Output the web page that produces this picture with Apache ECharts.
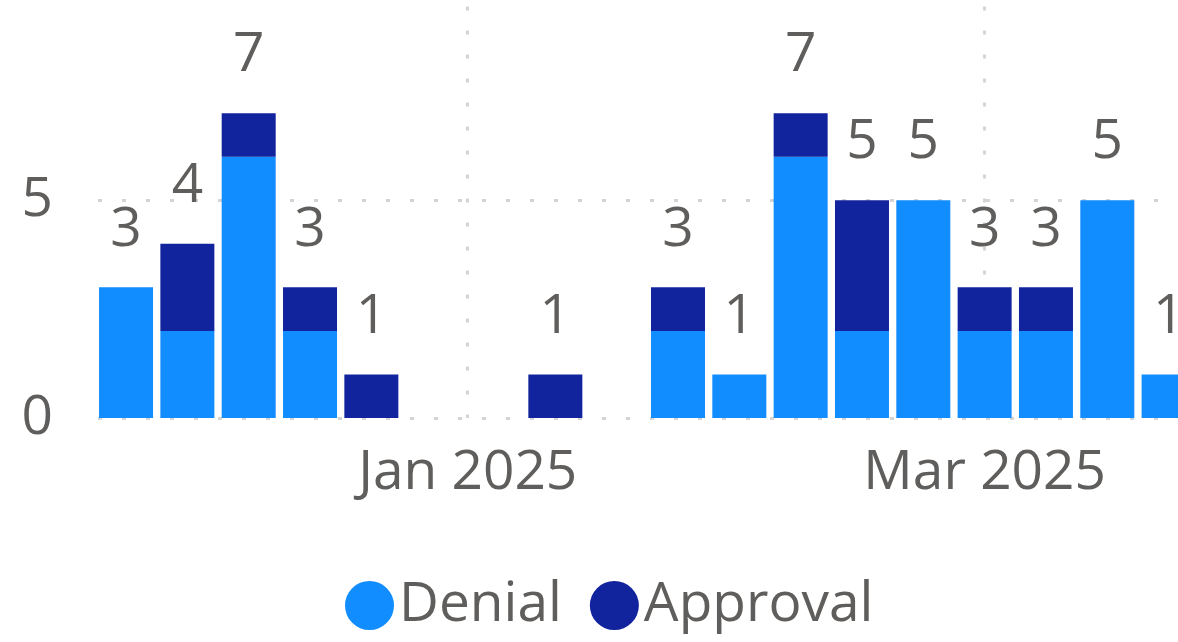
<!DOCTYPE html>
<html>
<head>
<meta charset="utf-8">
<script src="https://cdn.jsdelivr.net/npm/echarts@6/dist/echarts.min.js"></script>
<style>
  html, body { margin: 0; padding: 0; background: #fff; }
  #chart { width: 1178px; height: 642px; }
</style>
</head>
<body>
<div id="chart"></div>
<script>
// weekly bins (bar centre dates)
const weeks = [
  '2024-11-23', '2024-11-30', '2024-12-07', '2024-12-14', '2024-12-21', '2024-12-28',
  '2025-01-04', '2025-01-11', '2025-01-18', '2025-01-25', '2025-02-01', '2025-02-08',
  '2025-02-15', '2025-02-22', '2025-03-01', '2025-03-08', '2025-03-15', '2025-03-22'
]
const denial = [3, 2, 6, 2, 0, null, null, 0, null, 2, 1, 6, 2, 5, 2, 2, 5, 1]
const approval = [0, 2, 1, 1, 1, null, null, 1, null, 1, 0, 1, 3, 0, 1, 1, 0, 0]
const xTickDates = ['2025-01-01', '2025-03-01']
const xTickLabels = ['Jan 2025', 'Mar 2025']
const yTicks = [0, 5, 10]

const FONT = '"Open Sans", "Noto Sans", sans-serif'
const TEXT = '#605E5C'
const GRID_LINE = {
  color: '#d4d4d4',
  width: 3,
  type: [4, 20],
}

// date string -> day number (days since 2025-01-01)
const ORIGIN = Date.UTC(2025, 0, 1)
function toDay(s) {
  const p = s.split('-').map(Number)
  return (Date.UTC(p[0], p[1] - 1, p[2]) - ORIGIN) / 86400000
}
const tickDays = xTickDates.map(toDay)

const chart = echarts.init(document.getElementById('chart'), null, { renderer: 'canvas' })

// value first so that the stack runs on y (x is a plain value axis here)
function rows(values) {
  return weeks.map((w, i) => [values[i], toDay(w)])
}

const option = {
  animation: false,
  color: ['#118DFF', '#12239E'],
  grid: {
    left: 98,
    right: 0,
    top: -17.5,
    bottom: 224,
    containLabel: false,
    outerBoundsMode: 'none',
  },
  legend: {
    data: ['Denial', 'Approval'],
    icon: 'circle',
    left: 345,
    top: 578,
    padding: 0,
    itemWidth: 49,
    itemHeight: 49,
    itemGap: 28,
    textStyle: {
      color: TEXT,
      fontSize: 55,
      fontFamily: FONT,
    },
  },
  xAxis: {
    type: 'value',
    min: -42.2,
    max: 81.07,
    axisLine: { show: false },
    axisTick: { show: false, customValues: tickDays },
    splitLine: { show: true, lineStyle: GRID_LINE },
    axisLabel: {
      customValues: tickDays,
      color: TEXT,
      fontSize: 55,
      fontFamily: FONT,
      margin: 28,
      formatter: (val) => {
        const i = tickDays.indexOf(val)
        return i >= 0 ? xTickLabels[i] : ''
      },
    },
  },
  yAxis: {
    type: 'value',
    min: yTicks[0],
    max: yTicks[yTicks.length - 1],
    interval: 5,
    axisLine: { show: false },
    axisTick: { show: false },
    splitLine: { show: true, lineStyle: GRID_LINE },
    axisLabel: {
      color: TEXT,
      fontSize: 55,
      fontFamily: FONT,
      margin: 45,
      showMaxLabel: false,
    },
  },
  series: [
    {
      name: 'Denial',
      type: 'bar',
      stack: 'total',
      barWidth: 54,
      clip: true,
      encode: { x: 1, y: 0 },
      data: rows(denial),
    },
    {
      name: 'Approval',
      type: 'bar',
      stack: 'total',
      barWidth: 54,
      clip: true,
      encode: { x: 1, y: 0 },
      data: rows(approval),
      label: {
        show: true,
        position: 'top',
        distance: 30,
        color: TEXT,
        fontSize: 55,
        fontFamily: FONT,
        formatter: (p) => String((denial[p.dataIndex] || 0) + (approval[p.dataIndex] || 0)),
      },
    },
  ],
}

chart.setOption(option)
</script>
</body>
</html>
